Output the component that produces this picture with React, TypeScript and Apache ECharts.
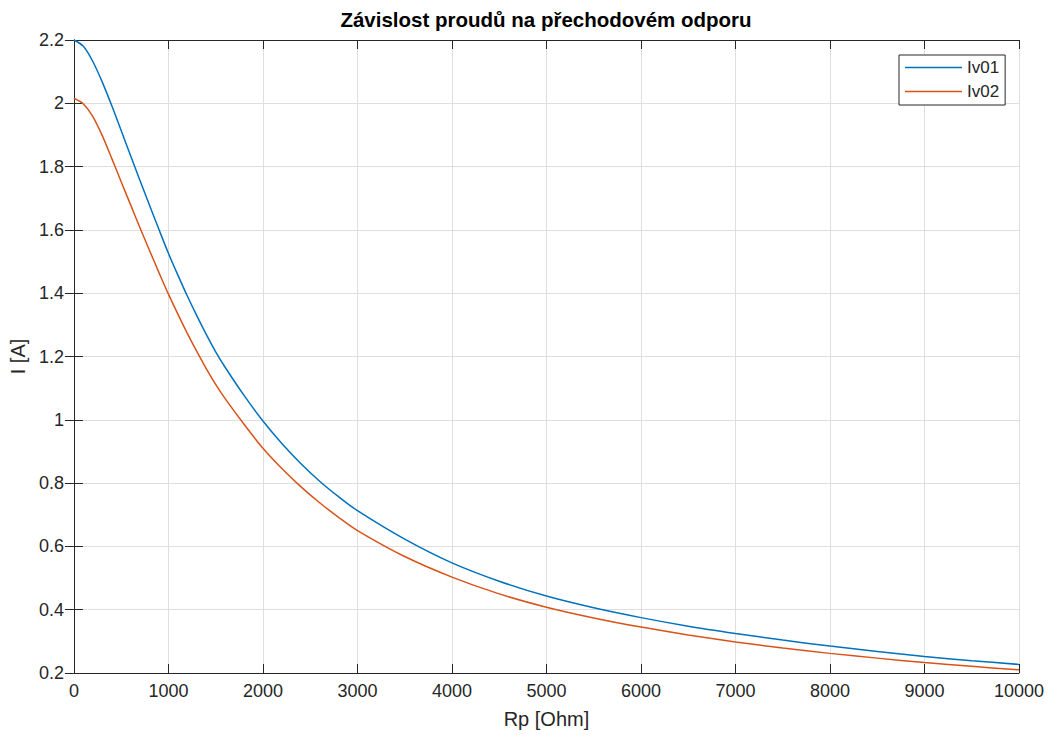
import React, { useEffect, useRef } from "react";
import * as echarts from "echarts";

const titleText = "Závislost proudů na přechodovém odporu";
const xName = "Rp [Ohm]";
const yName = "I [A]";
const seriesNames = ["Iv01", "Iv02"];

const rp = [0, 100, 200, 300, 400, 500, 600, 700, 800, 900, 1000, 1100, 1200, 1300, 1400, 1500, 1600, 1800, 2000, 2200, 2400, 2600, 2800, 3000, 3500, 4000, 4500, 5000, 5500, 6000, 6500, 7000, 7500, 8000, 8500, 9000, 9500, 10000];
const iv01 = [2.2, 2.18, 2.132, 2.067, 1.993, 1.914, 1.834, 1.755, 1.678, 1.601, 1.526, 1.457, 1.391, 1.329, 1.27, 1.215, 1.166, 1.077, 0.996, 0.925, 0.862, 0.806, 0.757, 0.713, 0.623, 0.548, 0.49, 0.443, 0.406, 0.375, 0.348, 0.325, 0.304, 0.285, 0.268, 0.252, 0.239, 0.227];
const iv02 = [2.016, 1.998, 1.958, 1.898, 1.826, 1.752, 1.679, 1.606, 1.535, 1.465, 1.397, 1.334, 1.273, 1.216, 1.162, 1.112, 1.067, 0.986, 0.91, 0.846, 0.789, 0.738, 0.692, 0.65, 0.568, 0.503, 0.45, 0.408, 0.374, 0.345, 0.32, 0.298, 0.279, 0.262, 0.247, 0.233, 0.221, 0.21];

const colors = ["#0072BD", "#D95319"];
const font = "'Liberation Sans', Arial, Helvetica, sans-serif";
const axisColor = "#262626";

export default function App() {
  const ref = useRef<HTMLDivElement>(null);
  useEffect(() => {
    if (!ref.current) return;
    const chart = echarts.init(ref.current, null, { renderer: "svg" });
    const mk = (ys: number[]) => rp.map((x, i) => [x, ys[i]]);
    const hiddenAxisCommon = {
      axisLine: { show: true, lineStyle: { color: axisColor, width: 1 } },
      axisTick: { show: true, inside: true, length: 9, lineStyle: { color: axisColor } },
      axisLabel: { show: false },
      splitLine: { show: false },
    };
    chart.setOption({
      animation: false,
      backgroundColor: "#ffffff",
      textStyle: { fontFamily: font },
      title: {
        text: titleText,
        left: 546,
        textAlign: "center",
        top: 9,
        padding: 0,
        textStyle: { fontFamily: font, fontSize: 20.5, fontWeight: "bold", color: "#000" },
      },
      legend: {
        orient: "vertical",
        left: 899,
        top: 55,
        padding: [4, 6, 5, 6],
        itemWidth: 57,
        itemHeight: 1.5,
        itemGap: 7,
        icon: "rect",
        backgroundColor: "#ffffff",
        borderColor: axisColor,
        borderWidth: 1,
        borderRadius: 0,
        textStyle: { fontFamily: font, fontSize: 17, color: axisColor, lineHeight: 17 },
        data: seriesNames,
      },
      grid: { left: 72, right: 29, top: 40, bottom: 62, containLabel: false },
      xAxis: [
        {
          type: "value",
          min: 0,
          max: 10000,
          interval: 1000,
          name: xName,
          nameLocation: "middle",
          nameGap: 36,
          nameTextStyle: { fontFamily: font, fontSize: 20, color: axisColor },
          axisLine: { show: true, lineStyle: { color: axisColor, width: 1 } },
          axisTick: { show: true, inside: true, length: 9, lineStyle: { color: axisColor } },
          axisLabel: { fontFamily: font, fontSize: 18, color: axisColor, margin: 9, formatter: (v: number) => String(v) },
          splitLine: { show: true, lineStyle: { color: "#dfdfdf", width: 1 } },
        },
        { type: "value", position: "top", min: 0, max: 10000, interval: 1000, ...hiddenAxisCommon },
      ],
      yAxis: [
        {
          type: "value",
          min: 0.2,
          max: 2.2,
          interval: 0.2,
          name: yName,
          nameLocation: "middle",
          nameGap: 42,
          nameTextStyle: { fontFamily: font, fontSize: 20, color: axisColor },
          axisLine: { show: true, lineStyle: { color: axisColor, width: 1 } },
          axisTick: { show: true, inside: true, length: 9, lineStyle: { color: axisColor } },
          axisLabel: { fontFamily: font, fontSize: 18, color: axisColor, margin: 10 },
          splitLine: { show: true, lineStyle: { color: "#dfdfdf", width: 1 } },
        },
        { type: "value", position: "right", min: 0.2, max: 2.2, interval: 0.2, ...hiddenAxisCommon },
      ],
      series: [
        {
          name: seriesNames[0],
          type: "line",
          data: mk(iv01),
          symbol: "none",
          smooth: 0.3,
          lineStyle: { color: colors[0], width: 1.5 },
          itemStyle: { color: colors[0] },
        },
        {
          name: seriesNames[1],
          type: "line",
          data: mk(iv02),
          symbol: "none",
          smooth: 0.3,
          lineStyle: { color: colors[1], width: 1.5 },
          itemStyle: { color: colors[1] },
        },
      ],
    });
    return () => chart.dispose();
  }, []);
  return (
    <div
      ref={ref}
      style={{ position: "absolute", left: 0, top: 0, width: 1048, height: 735, background: "#fff" }}
    />
  );
}
